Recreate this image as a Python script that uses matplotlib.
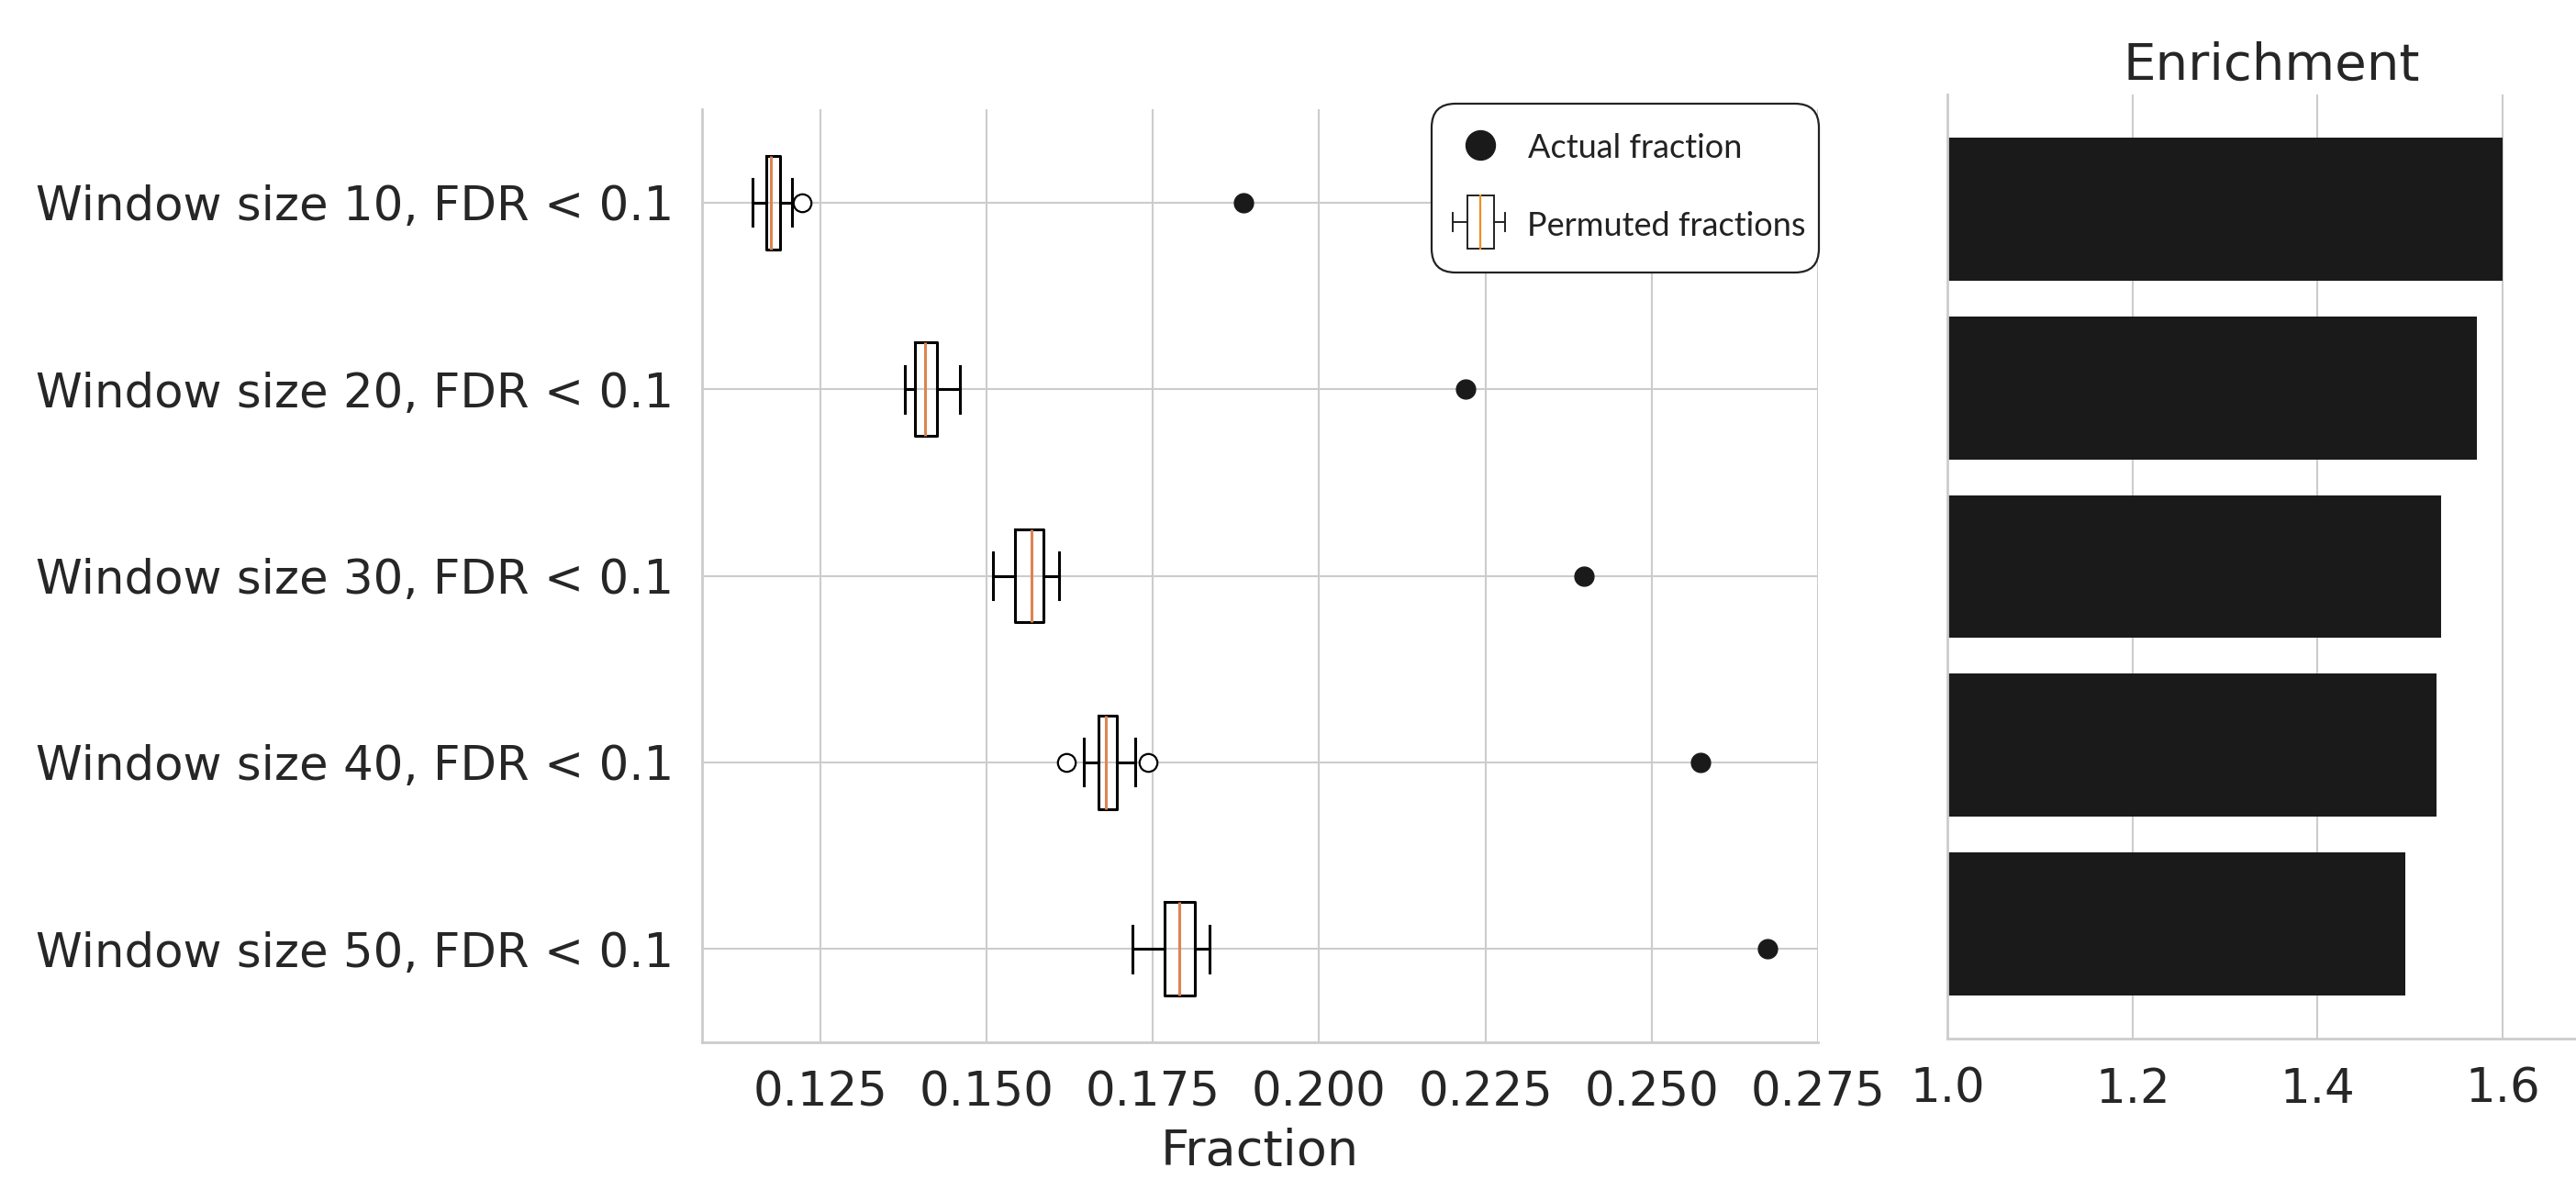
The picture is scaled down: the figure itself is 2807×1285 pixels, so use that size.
import matplotlib
matplotlib.use("Agg")
import matplotlib.pyplot as plt
from matplotlib.patches import FancyBboxPatch, Rectangle
from matplotlib.ticker import FormatStrFormatter

# ---- data ----
row_labels = [
    "Window size 10, FDR < 0.1",
    "Window size 20, FDR < 0.1",
    "Window size 30, FDR < 0.1",
    "Window size 40, FDR < 0.1",
    "Window size 50, FDR < 0.1",
]
actual_fraction = [0.1886, 0.2220, 0.2398, 0.2573, 0.2674]

perm_whislo = [0.1148, 0.1377, 0.1509, 0.1646, 0.1719]
perm_q1 = [0.1168, 0.1392, 0.1542, 0.1668, 0.1767]
perm_median = [0.1176, 0.1408, 0.1567, 0.1679, 0.1790]
perm_q3 = [0.1189, 0.1425, 0.1586, 0.1696, 0.1813]
perm_whishi = [0.1207, 0.1460, 0.1609, 0.1724, 0.1835]
perm_fliers = [[0.1223], [], [], [0.1620, 0.1743], []]

enrichment = [1.600, 1.572, 1.533, 1.528, 1.495]

frac_ticks = [0.125, 0.150, 0.175, 0.200, 0.225, 0.250, 0.275]
enr_ticks = [1.0, 1.2, 1.4, 1.6]

TEXT = "#262626"
GRID = "#cccccc"
DARK = "#1a1a1a"

plt.rcParams["font.family"] = "DejaVu Sans"

W, H = 2807, 1285
fig = plt.figure(figsize=(W / 100, H / 100), dpi=100)


def px_axes(x0, y0, x1, y1):
    return fig.add_axes([x0 / W, 1 - y1 / H, (x1 - x0) / W, (y1 - y0) / H])


def style_axes(a):
    a.grid(True, color=GRID, lw=1.5)
    a.set_axisbelow(True)
    for side in ("top", "right"):
        a.spines[side].set_visible(False)
    for side in ("left", "bottom"):
        a.spines[side].set_color(GRID)
        a.spines[side].set_linewidth(2)
    a.tick_params(length=0, pad=22, labelsize=37, colors=TEXT)


# ---- left panel: permuted fractions vs actual ----
ax = px_axes(765, 119, 1981, 1136)
style_axes(ax)

pos = list(range(1, len(row_labels) + 1))
stats = []
for i in range(len(row_labels)):
    stats.append(dict(med=perm_median[i], q1=perm_q1[i], q3=perm_q3[i],
                      whislo=perm_whislo[i], whishi=perm_whishi[i],
                      fliers=perm_fliers[i]))

line = dict(color="black", lw=2.2)
ax.bxp(stats, positions=pos, widths=0.5, orientation="horizontal",
       boxprops=line, whiskerprops=line, capprops=line,
       medianprops=dict(color="#dd8452", lw=2.2),
       flierprops=dict(marker="o", mfc="white", mec="black", ms=14, mew=1.6),
       manage_ticks=False)
ax.plot(actual_fraction, pos, "o", color=DARK, ms=15, zorder=4)

ax.set_yticks(pos)
ax.set_yticklabels(row_labels)
ax.set_ylim(5.5, 0.5)
ax.set_xlim(0.1072, 0.275)
ax.set_xticks(frac_ticks)
ax.xaxis.set_major_formatter(FormatStrFormatter("%.3f"))
ax.set_xlabel("Fraction", fontsize=39, color=TEXT, labelpad=9)

# ---- right panel: enrichment ----
ax2 = px_axes(2122, 103, 2828, 1132)
style_axes(ax2)
ax2.grid(False, axis="y")
ypos = list(range(len(enrichment)))
ax2.barh(ypos, enrichment, height=0.8, color=DARK, zorder=2)
ax2.set_ylim(len(enrichment) - 0.36, -0.64)
ax2.set_yticks(ypos)
ax2.set_yticklabels([])
ax2.set_xlim(1.0, 1.7)
ax2.set_xticks(enr_ticks)
ax2.set_title("Enrichment", fontsize=40.5, color=TEXT, pad=12)

# ---- legend (drawn as a small panel) ----
lg = px_axes(1557, 110, 1985, 300)
lg.set_xlim(0, 428)
lg.set_ylim(190, 0)
lg.axis("off")
lg.add_patch(FancyBboxPatch((3, 3), 422, 184,
                            boxstyle="round,pad=0,rounding_size=26",
                            fc="white", ec="#222222", lw=1.6))
lg.plot([55.7], [48.3], "o", color=DARK, ms=23)
lg.text(108, 61.7, "Actual fraction", fontsize=26, family="Lato",
        color="#222222", va="baseline")
# box glyph
lg.add_patch(Rectangle((42, 102.7), 29, 58, fc="none", ec="#222222", lw=1.4))
lg.plot([55.7, 55.7], [102.7, 160.7], color="#f0901e", lw=1.6)
lg.plot([26, 42], [131.7, 131.7], color="#222222", lw=1.4)
lg.plot([71, 83], [131.7, 131.7], color="#222222", lw=1.4)
lg.plot([26, 26], [121.7, 141.7], color="#222222", lw=1.4)
lg.plot([83, 83], [121.7, 141.7], color="#222222", lw=1.4)
lg.text(107, 146.7, "Permuted fractions", fontsize=26, family="Lato",
        color="#222222", va="baseline")

fig.savefig("out.png", dpi=100)
